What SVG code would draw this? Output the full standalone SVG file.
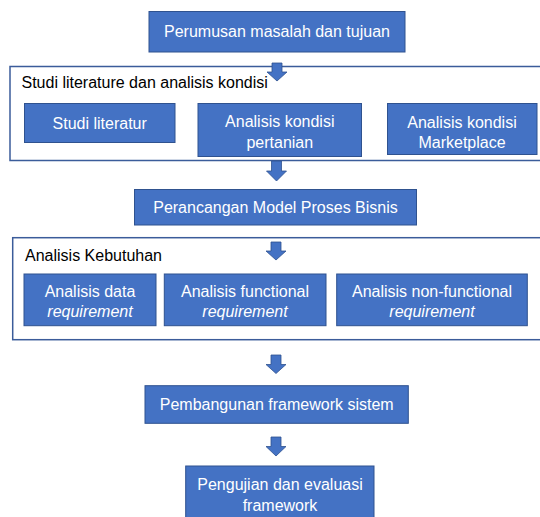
<svg xmlns="http://www.w3.org/2000/svg" width="540" height="517" viewBox="0 0 540 517">
<style>
.box{fill:#4472C4;stroke:#2F528F;stroke-width:1}
.cont{fill:#fff;stroke:#3B5C9A;stroke-width:1.5}
.arr{fill:#4472C4;stroke:#2F528F;stroke-width:0.8}
text{font-family:"Liberation Sans",Arial,sans-serif;font-size:16px}
.w{fill:#fff;text-anchor:middle}
.t{fill:#000}
.i{font-style:italic}
</style>
<rect width="540" height="517" fill="#fff"/>
<g id="n1"><rect class="box" x="149" y="11.5" width="256" height="40.5"/><text class="w" x="277" y="37">Perumusan masalah dan tujuan</text></g>
<g id="c1"><rect class="cont" x="10" y="66.5" width="540" height="94"/><text class="t" x="21.5" y="88">Studi literature dan analisis kondisi</text></g>
<g id="n2"><rect class="box" x="24.5" y="103.5" width="150.5" height="39"/><text class="w" x="99.7" y="128.5">Studi literatur</text></g>
<g id="n3"><rect class="box" x="198" y="103.5" width="163.5" height="53"/><text class="w" x="279.8" y="127">Analisis kondisi</text><text class="w" x="279.8" y="147.5">pertanian</text></g>
<g id="n4"><rect class="box" x="387.5" y="103.5" width="149.5" height="51"/><text class="w" x="462" y="127.5">Analisis kondisi</text><text class="w" x="462" y="147.5">Marketplace</text></g>
<g id="n5"><rect class="box" x="134.5" y="189.5" width="282" height="35.5"/><text class="w" x="275.5" y="213.3">Perancangan Model Proses Bisnis</text></g>
<g id="c2"><rect class="cont" x="12.7" y="237.7" width="540" height="102"/><text class="t" x="25" y="261">Analisis Kebutuhan</text></g>
<g id="n6"><rect class="box" x="24" y="274" width="132" height="51.7"/><text class="w" x="90" y="296.5">Analisis data</text><text class="w i" x="90" y="317">requirement</text></g>
<g id="n7"><rect class="box" x="164.3" y="274" width="161.7" height="51.7"/><text class="w" x="245" y="296.5">Analisis functional</text><text class="w i" x="245" y="317">requirement</text></g>
<g id="n8"><rect class="box" x="336.7" y="274" width="190.6" height="51.7"/><text class="w" x="432" y="296.5">Analisis non-functional</text><text class="w i" x="432" y="317">requirement</text></g>
<g id="n9"><rect class="box" x="145" y="385.7" width="263.3" height="37.6"/><text class="w" x="276.7" y="410">Pembangunan framework sistem</text></g>
<g id="n10"><rect class="box" x="185.7" y="466" width="188.3" height="60"/><text class="w" x="280" y="489.5">Pengujian dan evaluasi</text><text class="w" x="280" y="510.5">framework</text></g>
<g id="connectors">
<polygon class="arr" points="272,63 282,63 282,72 287,72 277,81 267,72 272,72"/>
<polygon class="arr" points="271.5,161 281.5,161 281.5,171 286.5,171 276.5,181 266.5,171 271.5,171"/>
<polygon class="arr" points="271,242 281,242 281,251 286,251 276,260 266,251 271,251"/>
<polygon class="arr" points="271,355 281,355 281,364.5 286,364.5 276,373.5 266,364.5 271,364.5"/>
<polygon class="arr" points="271,437 281,437 281,446.5 286,446.5 276,456 266,446.5 271,446.5"/>
</g>
</svg>
